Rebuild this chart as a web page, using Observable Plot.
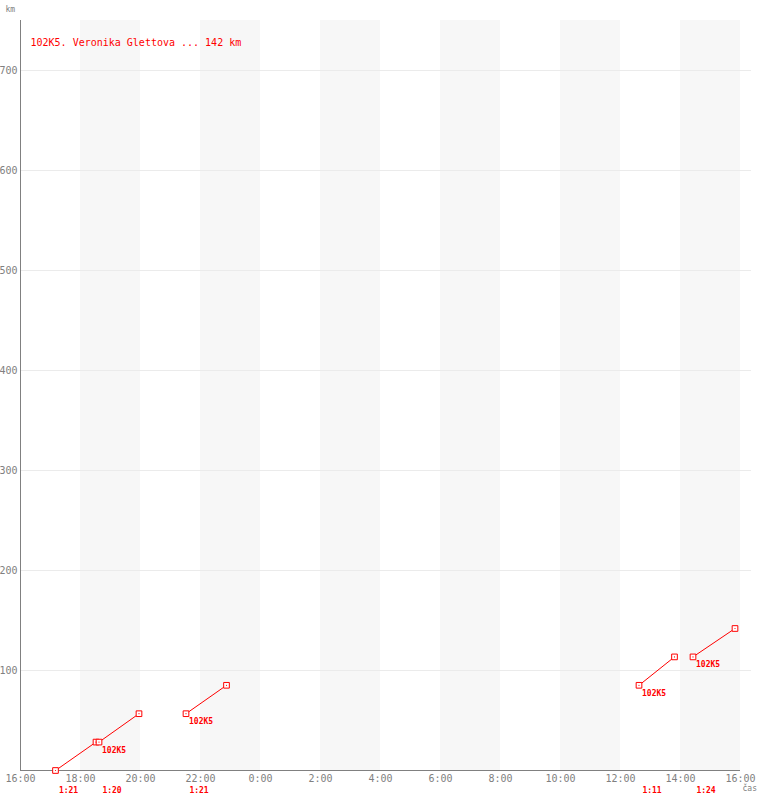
<!DOCTYPE html>
<html>
<head>
<meta charset="utf-8">
<script src="https://cdn.jsdelivr.net/npm/d3@7"></script>
<script src="https://cdn.jsdelivr.net/npm/@observablehq/plot@0.6"></script>
<style>
  body { margin: 0; background: #fff; }
  svg { display: block; }
</style>
</head>
<body>
<div id="chart"></div>
<script>
const titleText = "102K5. Veronika Glettova ... 142 km";
const domainStart = "2021-01-01T16:00";
const domainEnd = "2021-01-02T16:00";
const gridEnd = "2021-01-02T16:22";
const startTimes = ["2021-01-01T17:10", "2021-01-01T18:37", "2021-01-01T21:31", "2021-01-02T12:37", "2021-01-02T14:25"];
const endTimes = ["2021-01-01T18:31", "2021-01-01T19:57", "2021-01-01T22:52", "2021-01-02T13:48", "2021-01-02T15:49"];
const startKm = [0, 28.4, 56.8, 85.2, 113.6];
const endKm = [28.4, 56.8, 85.2, 113.6, 142];
const durations = ["1:21", "1:20", "1:21", "1:11", "1:24"];
const pointLabels = ["", "102K5", "102K5", "102K5", "102K5"];
const bandStarts = ["2021-01-01T18:00", "2021-01-01T22:00", "2021-01-02T02:00", "2021-01-02T06:00", "2021-01-02T10:00", "2021-01-02T14:00"];
const bandEnds = ["2021-01-01T20:00", "2021-01-02T00:00", "2021-01-02T04:00", "2021-01-02T08:00", "2021-01-02T12:00", "2021-01-02T16:00"];
const yTicks = [100, 200, 300, 400, 500, 600, 700];

const T = s => new Date(s + ":00Z");
const segs = startTimes.map((s, i) => ({
  t1: T(s), t2: T(endTimes[i]), k1: startKm[i], k2: endKm[i],
  dur: durations[i], lab: pointLabels[i]
}));
const pts = segs.flatMap(d => [{t: d.t1, k: d.k1}, {t: d.t2, k: d.k2}]);
const bands = bandStarts.map((s, i) => ({a: T(s), b: T(bandEnds[i])}));
const x0 = T(domainStart), x1 = T(domainEnd);
const xTicks = d3.utcHour.every(2).range(x0, new Date(+x1 + 1));

const font = "DejaVu Sans Mono, monospace";
const red = "#ff0000";
const grey = "#808080";

const chart = Plot.plot({
  width: 760,
  height: 800,
  marginLeft: 20,
  marginRight: 20,
  marginTop: 20,
  marginBottom: 30,
  style: {fontFamily: font, background: "#fff"},
  x: {type: "utc", domain: [x0, x1]},
  y: {domain: [0, 750]},
  marks: [
    Plot.rect(bands, {x1: "a", x2: "b", fill: "#f7f7f7"}),
    Plot.ruleY(yTicks, {x1: x0, x2: T(gridEnd), stroke: "#ebebeb", strokeWidth: 1, clip: false}),
    Plot.axisX({ticks: xTicks, tickSize: 0, tickPadding: 4, tickFormat: d3.utcFormat("%-H:%M"), fontSize: 10, fill: grey, label: null}),
    Plot.axisY({ticks: yTicks, tickSize: 0, tickPadding: 3, fontSize: 10, fill: grey, label: null}),
    Plot.ruleX([x0], {stroke: grey}),
    Plot.ruleY([0], {stroke: grey}),
    Plot.link(segs, {x1: "t1", y1: "k1", x2: "t2", y2: "k2", stroke: red, strokeWidth: 1}),
    Plot.dot(pts, {x: "t", y: "k", symbol: "square", r: 3.2, stroke: red, fill: "#fff", strokeWidth: 1}),
    Plot.dot(pts, {x: "t", y: "k", r: 0.6, fill: red, stroke: null}),
    Plot.text(segs, {x: "t1", y: "k1", text: "lab", fill: red, fontSize: 8, fontWeight: "bold", textAnchor: "start", dx: 3, dy: 8}),
    Plot.text(segs, {x: "t1", text: "dur", frameAnchor: "bottom", fill: red, fontSize: 8, fontWeight: "bold", dx: 13, dy: 22}),
    Plot.text([titleText], {frameAnchor: "top-left", fill: red, fontSize: 10, dx: 10, dy: 18, textAnchor: "start"}),
    Plot.text(["km"], {frameAnchor: "top-left", fill: grey, fontSize: 8, dx: -15, dy: -14, textAnchor: "start"}),
    Plot.text(["čas"], {frameAnchor: "bottom-right", fill: grey, fontSize: 8, dx: 2, dy: 20, textAnchor: "start"})
  ]
});
document.getElementById("chart").append(chart);
</script>
</body>
</html>
